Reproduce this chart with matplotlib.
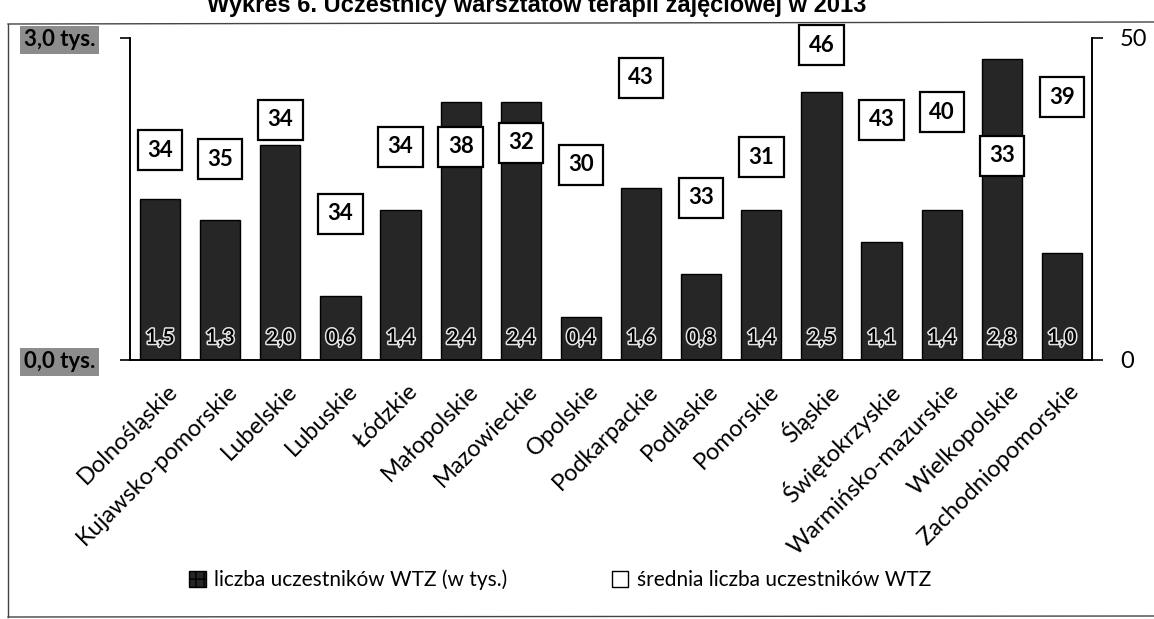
import matplotlib
matplotlib.use("Agg")
import matplotlib.pyplot as plt
import matplotlib.patches as mpatches
import matplotlib.transforms as mtransforms
import matplotlib.patheffects as pe
import numpy as np

plt.rcParams['font.family'] = ['Lato', 'DejaVu Sans']

# data
regions = ['Dolnośląskie', 'Kujawsko-pomorskie', 'Lubelskie', 'Lubuskie', 'Łódzkie',
           'Małopolskie', 'Mazowieckie', 'Opolskie', 'Podkarpackie', 'Podlaskie',
           'Pomorskie', 'Śląskie', 'Świętokrzyskie', 'Warmińsko-mazurskie',
           'Wielkopolskie', 'Zachodniopomorskie']
participants = [1.5, 1.3, 2.0, 0.6, 1.4, 2.4, 2.4, 0.4, 1.6, 0.8, 1.4, 2.5, 1.1, 1.4, 2.8, 1.0]
avg_participants = [34, 35, 34, 34, 34, 38, 32, 30, 43, 33, 31, 46, 43, 40, 33, 39]

# where the boxed averages sit (right axis units), placed by hand in the original
box_pos = [32.6, 31.2, 37.3, 22.7, 33.1, 33.1, 33.7, 30.3, 43.8, 25.2, 31.5, 48.9,
           37.3, 38.5, 31.7, 40.8]

W, H = 1154, 619
fig = plt.figure(figsize=(W / 100, H / 100), dpi=100)
ax = fig.add_axes([130 / W, 1 - 360 / H, (1092 - 130) / W, (360 - 38) / H])
ax2 = ax.twinx()

x = np.arange(len(regions))
bar_col = '#262626'
ax.bar(x, participants, width=0.67, color=bar_col, edgecolor='black', linewidth=1.0, zorder=2)

ax.set_xlim(-0.5, len(regions) - 0.5)
ax.set_ylim(0, 3.0)
ax2.set_ylim(0, 50)

# values inside bars
for xi, v in zip(x, participants):
    ax.annotate(f'{v:.1f}'.replace('.', ','), (xi, 0), xytext=(0, 16), textcoords='offset points',
                ha='center', va='center', fontsize=15, fontweight='bold', color='black',
                path_effects=[pe.withStroke(linewidth=2.2, foreground='#e6e6e6')], zorder=4)

# boxed averages
for xi, v, yp in zip(x, avg_participants, box_pos):
    ax2.text(xi, yp, str(v), ha='center', va='center', fontsize=16, fontweight='bold',
             bbox=dict(boxstyle='square,pad=0.42', facecolor='white', edgecolor='black', linewidth=1.6),
             zorder=5)

# left axis
ax.set_yticks([0, 3.0])
ax.set_yticklabels(['0,0 tys.', '3,0 tys.'], fontsize=16, fontweight='bold')
for lab in ax.get_yticklabels():
    lab.set_bbox(dict(facecolor='#8c8c8c', edgecolor='none', pad=2.5))
ax.tick_params(axis='y', length=7, width=1.2, pad=18)

# right axis
ax2.set_yticks([0, 50])
ax2.tick_params(axis='y', length=8, width=1.2, pad=12, labelsize=17)

# categories
ax.set_xticks(x)
ax.set_xticklabels(regions, rotation=45, ha='right', va='center', rotation_mode='anchor', fontsize=17)
ax.tick_params(axis='x', length=0, pad=20)
shift = mtransforms.ScaledTranslation(10 / 72, 0, fig.dpi_scale_trans)
for lab in ax.get_xticklabels():
    lab.set_transform(lab.get_transform() + shift)

for a in (ax, ax2):
    a.spines['top'].set_visible(False)
    for s in ('left', 'right', 'bottom'):
        a.spines[s].set_linewidth(1.2)

# legend
h1 = mpatches.Patch(facecolor=bar_col, edgecolor='black', hatch='++')
h2 = mpatches.Patch(facecolor='white', edgecolor='black')
fig.legend([h1, h2], ['liczba uczestników WTZ (w tys.)', 'średnia liczba uczestników WTZ'],
           loc='center', bbox_to_anchor=(560 / W, 1 - 580 / H), ncol=2, frameon=False,
           fontsize=15, handlelength=0.8, handleheight=0.8, handletextpad=0.4, columnspacing=5)

# frame around chart
fig.add_artist(plt.Line2D([8 / W, 8 / W], [1 - 24 / H, 1 - 617 / H], color='#444444', lw=1))
fig.add_artist(plt.Line2D([8 / W, 1], [1 - 24 / H, 1 - 22 / H], color='#444444', lw=1))
fig.add_artist(plt.Line2D([8 / W, 1], [1 - 617 / H, 1 - 616 / H], color='#444444', lw=1))

# title cut by the top of the scan
fig.text(207 / W, 1 - 12 / H, 'Wykres 6. Uczestnicy warsztatów terapii zajęciowej w 2013',
         ha='left', va='baseline', fontsize=17, fontweight='bold', family='Liberation Sans')

fig.savefig('out.png', dpi=100)
plt.close(fig)
